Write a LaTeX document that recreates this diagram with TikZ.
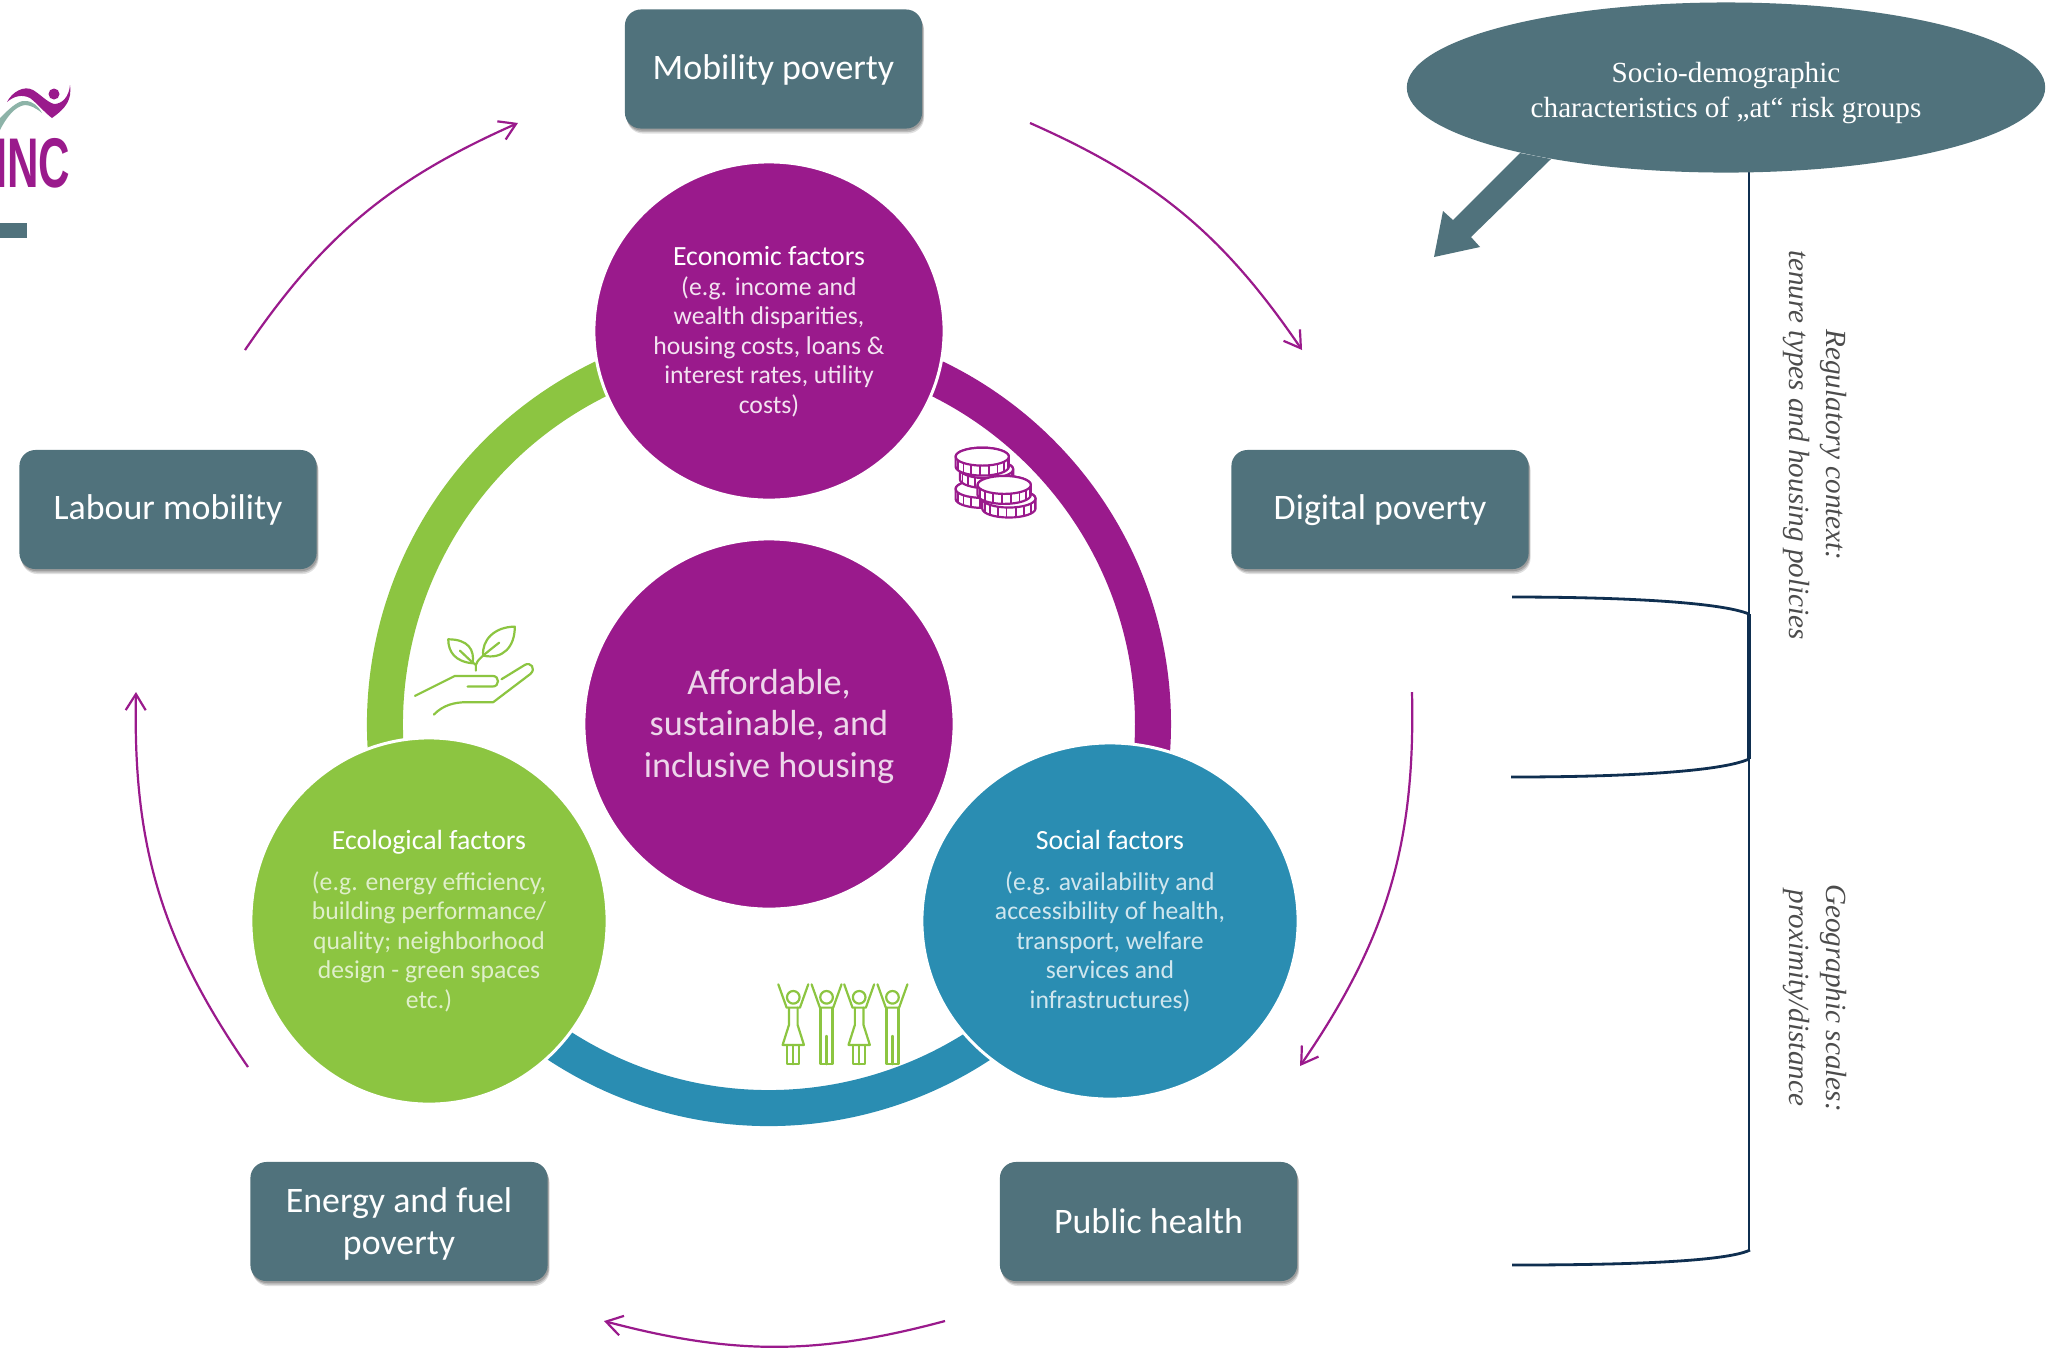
\documentclass[tikz,border=0pt]{standalone}
\usepackage{fontspec}
\setmainfont{Carlito}
\newfontfamily\serifface{Liberation Serif}
\newfontfamily\logoface{Liberation Sans}
\usetikzlibrary{arrows.meta,shapes.geometric,shadows,bending}
\definecolor{cpurple}{HTML}{9A1A8C}
\definecolor{cteal}{HTML}{50727C}
\definecolor{cgreen}{HTML}{8CC541}
\definecolor{cblue}{HTML}{2A8DB2}
\definecolor{cnavy}{HTML}{0F2F50}
\definecolor{csage}{HTML}{8DB3A8}
\newcommand{\ftitle}[1]{{\fontsize{7.9}{8.4}\selectfont #1}}
\newcommand{\lowered}[2]{\raisebox{-#1}[\height][\depth]{\begin{tabular}[c]{@{}c@{}}#2\end{tabular}}}
\tikzset{
  softshadow/.style={
    drop shadow={shadow xshift=0.01cm,shadow yshift=-0.02cm,opacity=.16,fill=black},
    drop shadow={shadow xshift=0.015cm,shadow yshift=-0.035cm,opacity=.16,fill=black},
    drop shadow={shadow xshift=0.02cm,shadow yshift=-0.05cm,opacity=.12,fill=black}},
  topicbox/.style={draw=none,fill=cteal,rounded corners=0.16cm,minimum width=2.97cm,minimum height=1.19cm,
    text=white,align=center,inner sep=0pt,font=\fontsize{10.2}{12}\selectfont,softshadow},
  factor/.style={shape=ellipse,draw=white,line width=0.03cm,inner sep=0pt,align=center,text=white},
  ringarc/.style={line width=0.36cm},
  flow/.style={cpurple,line width=0.022cm,-{Straight Barb[length=0.16cm,width=0.2cm,bend]}},
  bracket/.style={cnavy,line width=0.028cm},
  sidetext/.style={rotate=-90,align=center,text=black!70,inner sep=0pt,
    font=\serifface\itshape\fontsize{8.3}{10.4}\selectfont},
  icong/.style={cgreen,line width=0.022cm,line join=round,line cap=round},
  iconp/.style={cpurple,line width=0.022cm,line join=round,fill=white},
  coin/.pic={
    \draw[iconp] (-80,0) arc (180:360:80 and 27) -- (80,30) arc (0:180:80 and 27) -- cycle;
    \draw[iconp] (0,0) ellipse (80 and 27);
    \foreach \t in {15,35,55,75,95,115,135,155}
      {\draw[cpurple,line width=0.018cm] ({80*cos(\t)},{27*sin(\t)}) -- ({80*cos(\t)},{27*sin(\t)+30});}
  },
}
\begin{document}
\begin{tikzpicture}[x=0.01cm,y=-0.01cm]
\useasboundingbox (0,0) rectangle (2048,1347);
\clip (0,0) rectangle (2048,1347);
\fill[white] (0,0) rectangle (2048,1347);
\coordinate (hub) at (769,724);

% logo
\node[anchor=south east,inner sep=0pt,text=cpurple,font=\logoface\bfseries\fontsize{20}{20}\selectfont] (logotext) at (71,188.5) {\scalebox{0.62}[1]{INC}};
\fill[csage] (0,118) .. controls (8,110) and (18,100) .. (25,101) .. controls (33,101) and (38,106) .. (42,113) .. controls (36,108) and (30,105) .. (25,105) .. controls (15,106) and (6,118) .. (0,130) -- cycle;
\fill[cpurple] (7,102) .. controls (12,92) and (24,85) .. (33,90) .. controls (40,94) and (47,102) .. (54,104) .. controls (62,104) and (69,97) .. (70,85) .. controls (72,100) and (66,108) .. (52,118) .. controls (45,113) and (38,104) .. (30,98) .. controls (22,94) and (14,96) .. (7,102) -- cycle;
\fill[cpurple] (54,94) circle (5.5);
\fill[cteal] (0,223) rectangle (27,238);

% ring
\draw[ringarc,cpurple] ([shift={(-90:384)}]hub) arc (-90:30:384);
\draw[ringarc,cblue] ([shift={(30:384)}]hub) arc (30:150:384);
\draw[ringarc,cgreen] ([shift={(150:384)}]hub) arc (150:270:384);

% icons: coins
\begin{scope}[shift={(920,420)},x=0.00333cm,y=-0.00333cm]
  \path (187,207) pic {coin};
  \path (200,148) pic {coin};
  \path (187,110) pic {coin};
  \path (267,236) pic {coin};
  \path (253,195) pic {coin};
\end{scope}
% icons: hand and plant
\begin{scope}[shift={(400,610)},x=0.00333cm,y=-0.00333cm]
  \draw[icong] (45,258) -- (165,198) -- (278,198) .. controls (300,198) and (300,230) .. (278,230) -- (203,230);
  \draw[icong] (102,314) .. controls (130,285) and (165,277) .. (200,277) -- (280,277) -- (392,192) .. controls (410,175) and (392,155) .. (375,165) -- (305,208);
  \draw[icong] (228,182) -- (228,165) .. controls (232,150) and (245,140) .. (298,98);
  \draw[icong] (228,165) -- (215,155) -- (180,122);
  \draw[icong] (218,160) .. controls (225,120) and (205,88) .. (145,88) .. controls (145,125) and (165,155) .. (218,160);
  \draw[icong] (250,137) .. controls (245,90) and (285,50) .. (345,50) .. controls (345,110) and (310,150) .. (250,137);
\end{scope}
% icons: people
\begin{scope}[shift={(760,970)},x=0.00333cm,y=-0.00333cm]
  \foreach \dx in {0,198}{
    \begin{scope}[shift={(\dx,0)}]
    \draw[icong] (55,43) -- (80,113) -- (120,113) -- (145,43);
    \draw[icong] (100,82) circle (19);
    \draw[icong] (87,113) -- (87,165) -- (68,225) -- (132,225) -- (113,165) -- (113,113);
    \draw[icong] (82,225) -- (82,283) -- (118,283) -- (118,225);
    \draw[icong] (100,225) -- (100,283);
    \draw[icong] (155,43) -- (180,113) -- (220,113) -- (245,43);
    \draw[icong] (200,82) circle (19);
    \draw[icong] (182,113) -- (182,283) -- (218,283) -- (218,113);
    \draw[icong] (200,198) -- (200,283);
    \end{scope}
  }
\end{scope}

% factor circles
\node[factor,fill=cpurple,minimum width=3.5cm,minimum height=3.38cm,font=\fontsize{7.3}{8.4}\selectfont] (econ) at (769,331)
  {\lowered{0.75pt}{\ftitle{Economic factors}\\\textcolor{white!88!cpurple}{(e.g. income and}\\\textcolor{white!88!cpurple}{wealth disparities,}\\\textcolor{white!88!cpurple}{housing costs, loans \&}\\\textcolor{white!88!cpurple}{interest rates, utility}\\\textcolor{white!88!cpurple}{costs)}}};
\node[factor,fill=cpurple,minimum width=3.7cm,minimum height=3.7cm,text=white!82!cpurple,font=\fontsize{10.3}{11.8}\selectfont] (core) at (769,724)
  {\lowered{0.95pt}{Affordable,\\sustainable, and\\inclusive housing}};
\node[factor,fill=cgreen,minimum width=3.56cm,minimum height=3.66cm,font=\fontsize{7.3}{8.4}\selectfont] (eco) at (429,921)
  {\ftitle{Ecological factors}\\[3.2pt]\textcolor{white!72!cgreen}{(e.g. energy efficiency,}\\\textcolor{white!72!cgreen}{building performance/}\\\textcolor{white!72!cgreen}{quality; neighborhood}\\\textcolor{white!72!cgreen}{design - green spaces}\\\textcolor{white!72!cgreen}{etc.)}};
\node[factor,fill=cblue,minimum width=3.76cm,minimum height=3.56cm,font=\fontsize{7.3}{8.4}\selectfont] (soc) at (1110,921)
  {\ftitle{Social factors}\\[3.2pt]\textcolor{white!78!cblue}{(e.g. availability and}\\\textcolor{white!78!cblue}{accessibility of health,}\\\textcolor{white!78!cblue}{transport, welfare}\\\textcolor{white!78!cblue}{services and}\\\textcolor{white!78!cblue}{infrastructures)}};

% topic boxes
\node[topicbox] (mob) at (773.5,69) {\lowered{0.55pt}{Mobility poverty}};
\node[topicbox] (dig) at (1380,509.5) {\lowered{0.4pt}{Digital poverty}};
\node[topicbox] (lab) at (168,509.5) {\lowered{0.4pt}{Labour mobility}};
\node[topicbox] (ene) at (399,1221.5) {\lowered{0.95pt}{Energy and fuel\\poverty}};
\node[topicbox] (pub) at (1148.5,1221.5) {Public health};

% cycle arrows
\coordinate (a1s) at (245,350);   \coordinate (a1e) at (518,123);
\coordinate (a2s) at (1030,123);  \coordinate (a2e) at (1302,350);
\coordinate (a3s) at (1412,692);  \coordinate (a3e) at (1300,1066);
\coordinate (a4s) at (945,1321);  \coordinate (a4e) at (604,1321);
\coordinate (a5s) at (248,1067);  \coordinate (a5e) at (136,692);
\draw[flow] (a1s) to[bend left=16] (a1e);
\draw[flow] (a2s) to[bend left=16] (a2e);
\draw[flow] (a3s) to[bend left=18] (a3e);
\draw[flow] (a4s) to[bend left=15] (a4e);
\draw[flow] (a5s) to[bend left=18] (a5e);

% brackets
\coordinate (vtop) at (1749,160);
\coordinate (vbot) at (1749,1250);
\coordinate (b1) at (1512,597);
\coordinate (b1j) at (1749,614);
\coordinate (b2) at (1511,777);
\coordinate (b2j) at (1749,759);
\coordinate (b3) at (1512,1265);
\coordinate (b3j) at (1750,1250);
\draw[bracket] (vtop) -- (vbot);
\draw[bracket,line width=0.04cm] (b1j) -- (b2j);
\draw[bracket] (b1) .. controls (1620,597) and (1720,602) .. (b1j);
\draw[bracket] (b2) .. controls (1620,777) and (1720,772) .. (b2j);
\draw[bracket] (b3) .. controls (1620,1265) and (1725,1262) .. (b3j);

% socio-demographic callout
\fill[cteal] (1520,153) -- (1453,220) -- (1443,211) -- (1434,257) -- (1480,247) -- (1471,237) -- (1551,159) -- cycle;
\node[shape=ellipse,fill=cteal,minimum width=6.38cm,minimum height=1.70cm,inner sep=0pt,text=white,align=center,font=\serifface\fontsize{8.3}{10}\selectfont] (risk) at (1726,87.5) {\lowered{1.5pt}{Socio-demographic\\characteristics of „at“ risk groups}};

% side labels
\node[sidetext] (reg) at (1815,445) {Regulatory context:\\tenure types and housing policies};
\node[sidetext] (geo) at (1815,998) {Geographic scales:\\proximity/distance};
\end{tikzpicture}
\end{document}
